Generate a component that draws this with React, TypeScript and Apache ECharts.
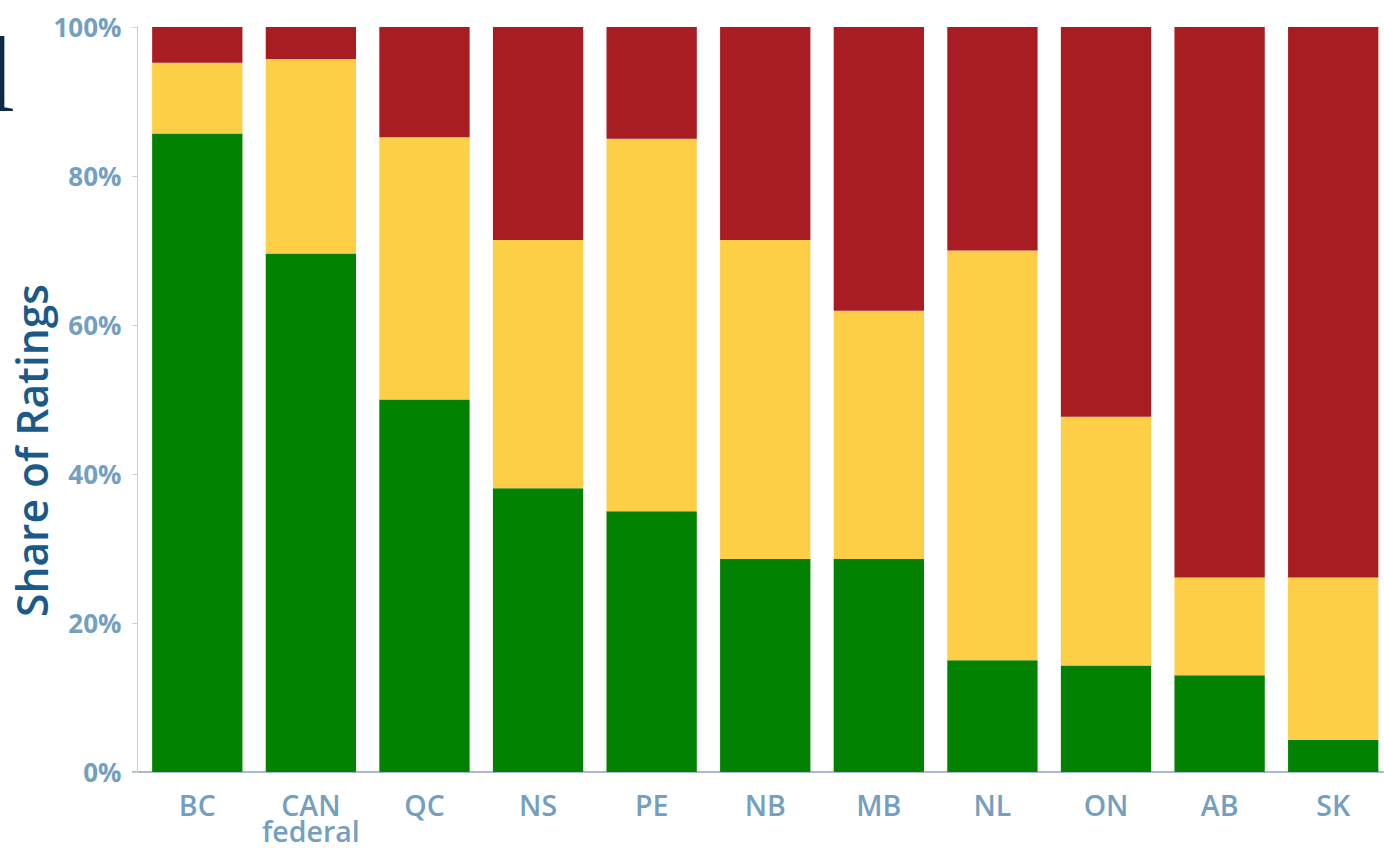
import React, { useEffect, useRef } from "react";
import * as echarts from "echarts";

const categories = ["BC", "CAN\nfederal", "QC", "NS", "PE", "NB", "MB", "NL", "ON", "AB", "SK"];
const greenShare = [85.7, 69.6, 50.0, 38.1, 35.0, 28.6, 28.6, 15.0, 14.3, 13.0, 4.3];
const yellowShare = [9.5, 26.1, 35.2, 33.3, 50.0, 42.8, 33.3, 55.0, 33.4, 13.1, 21.8];
const redShare = [4.8, 4.3, 14.8, 28.6, 15.0, 28.6, 38.1, 30.0, 52.3, 73.9, 73.9];
const yTicks = [0, 20, 40, 60, 80, 100];

const GREEN = "#028102";
const YELLOW = "#fdcf47";
const RED = "#a71d22";
const FONT = "'Open Sans', 'Noto Sans', sans-serif";

export default function App() {
  const ref = useRef<HTMLDivElement>(null);

  useEffect(() => {
    if (!ref.current) return;
    const chart = echarts.init(ref.current, null, { renderer: "svg" });
    const mkSeries = (name: string, data: number[], color: string) => ({
      name,
      type: "bar",
      stack: "total",
      data,
      barWidth: "79.5%",
      itemStyle: { color },
      emphasis: { disabled: true },
    });
    chart.setOption({
      animation: false,
      backgroundColor: "#ffffff",
      grid: { left: 140.5, right: 0, top: 27, bottom: 76, containLabel: false },
      xAxis: {
        type: "category",
        data: categories,
        axisLine: { show: true, lineStyle: { color: "#8ba6bc", width: 1.5 } },
        axisTick: { show: false },
        axisLabel: {
          color: "#759fbe",
          fontFamily: FONT,
          fontWeight: 600,
          fontSize: 28.5,
          lineHeight: 26,
          margin: 20,
          interval: 0,
        },
      },
      yAxis: {
        type: "value",
        min: 0,
        max: 100,
        interval: 20,
        offset: 3,
        axisLine: { show: true, lineStyle: { color: "#c9d0d7", width: 1 } },
        axisTick: { show: true, length: 5, lineStyle: { color: "#c9d0d7" } },
        splitLine: { show: false },
        axisLabel: {
          formatter: (v: number) => (yTicks.includes(v) ? v + "%" : ""),
          color: "#759fbe",
          fontFamily: FONT,
          fontWeight: 700,
          fontSize: 26,
          margin: 16,
        },
      },
      graphic: [
        {
          type: "text",
          left: 10,
          top: 284,
          rotation: Math.PI / 2,
          style: {
            text: "Share of Ratings",
            fill: "#1b5a88",
            font: `600 42.5px ${FONT}`,
          },
        },
        {
          type: "line",
          shape: { x1: 132, y1: 772, x2: 141, y2: 772 },
          style: { stroke: "#8ba6bc", lineWidth: 1.5 },
        },
        {
          type: "text",
          x: -15,
          y: 20,
          style: {
            text: "l",
            fill: "#0e2a47",
            font: "108px 'Liberation Serif', 'DejaVu Serif', serif",
          },
        },
      ],
      series: [
        mkSeries("Green", greenShare, GREEN),
        mkSeries("Yellow", yellowShare, YELLOW),
        mkSeries("Red", redShare, RED),
      ],
    });
    return () => chart.dispose();
  }, []);

  return (
    <div
      style={{
        position: "fixed",
        left: 0,
        top: 0,
        width: 1384,
        height: 848,
        overflow: "hidden",
        background: "#fff",
      }}
    >
      <div ref={ref} style={{ width: 1390, height: 848 }} />
    </div>
  );
}
